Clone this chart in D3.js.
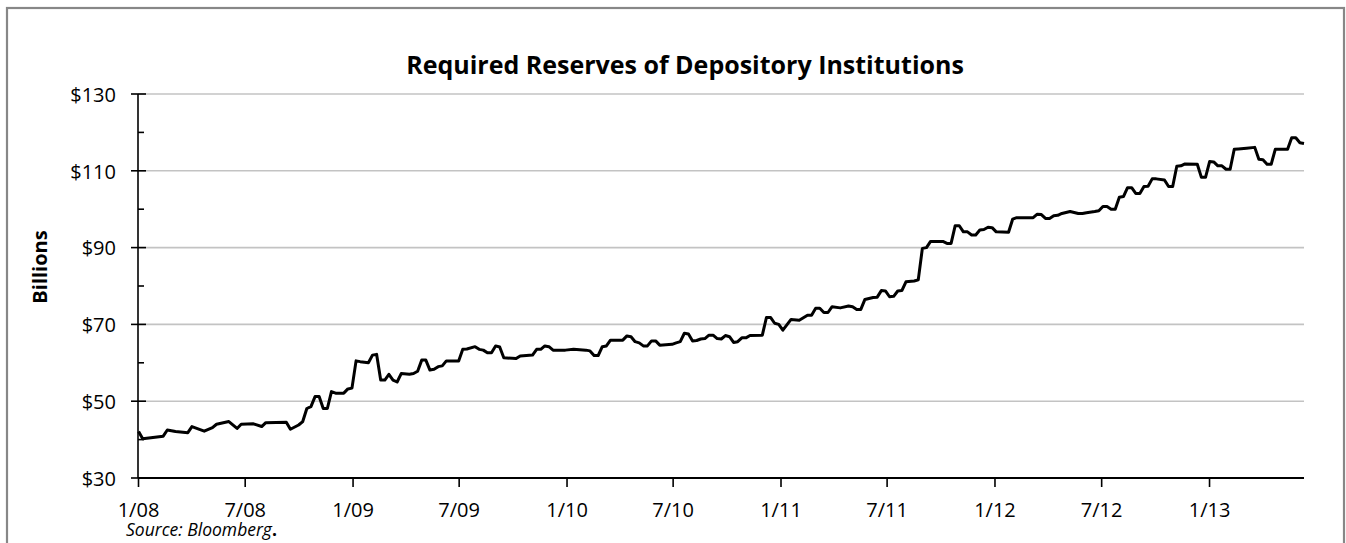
<!DOCTYPE html>
<html>
<head>
<meta charset="utf-8">
<script src="https://cdn.jsdelivr.net/npm/d3@7"></script>
<style>
  body { margin: 0; background: #fff; }
  svg { display: block; }
  .tick-label { font-family: "Open Sans", Lato, sans-serif; font-size: 20px; fill: #000; }
  .title { font-family: "Open Sans", Lato, sans-serif; font-size: 25px; font-weight: bold; }
  .axis-title { font-family: "Open Sans", Lato, sans-serif; font-size: 20px; font-weight: bold; }
  .source { font-family: "Open Sans", Lato, sans-serif; font-size: 17.5px; font-style: italic; }
</style>
</head>
<body>
<div id="chart"></div>
<script>

// weeks since the first weekly reading (2 Jan 2008)
var weeks = [0,1,6,7,9,12,13,16,18,19,22,24,25,28,30,31,36,37,39,40,41,42,43,44,45,46,47,48,50,51,52,53,54,56,57,58,59,60,61,62,63,64,66,67,68,69,70,71,72,73,74,75,78,79,80,82,83,84,85,86,87,88,89,92,93,96,97,98,99,100,101,104,106,109,110,111,112,113,114,115,118,119,120,121,122,123,124,125,126,127,130,131,132,133,134,135,136,137,138,139,140,141,142,143,144,145,146,147,148,149,152,153,154,155,156,157,159,161,163,164,165,166,167,168,169,171,173,174,175,176,177,179,180,181,182,183,184,185,186,187,189,190,191,192,193,196,197,198,199,200,201,202,203,204,205,206,207,208,209,212,213,214,218,219,220,221,222,223,224,225,227,229,230,231,233,234,235,236,237,238,239,240,241,242,243,244,245,246,247,248,250,251,252,253,254,255,258,259,260,261,262,263,264,265,266,267,268,270,272,273,274,275,276,277,280,281,282,283,284];

// required reserves, $ billions
var reserves = [42.1,40.2,40.9,42.5,42.1,41.8,43.4,42.2,43.1,44.0,44.7,42.9,44.0,44.1,43.4,44.4,44.5,42.7,43.8,44.7,48.1,48.6,51.2,51.2,48.1,48.1,52.5,52.1,52.1,53.2,53.4,60.5,60.3,60.0,62.0,62.2,55.5,55.5,57.0,55.5,55.0,57.2,57.0,57.2,57.8,60.7,60.7,58.1,58.3,59.0,59.2,60.5,60.5,63.5,63.6,64.2,63.5,63.3,62.6,62.6,64.4,64.1,61.3,61.1,61.8,62.0,63.5,63.5,64.4,64.2,63.3,63.3,63.5,63.3,63.1,61.9,61.9,64.2,64.4,65.9,65.9,67.0,66.8,65.5,65.2,64.4,64.4,65.7,65.7,64.6,64.8,65.2,65.5,67.7,67.5,65.7,65.8,66.2,66.3,67.2,67.2,66.3,66.2,67.1,66.8,65.3,65.5,66.5,66.5,67.1,67.2,71.8,71.8,70.3,70.0,68.5,71.3,71.1,72.4,72.4,74.2,74.2,73.1,73.1,74.6,74.3,74.8,74.6,73.9,73.9,76.5,77.0,77.1,78.8,78.7,77.2,77.3,78.7,78.8,81.1,81.3,81.6,89.8,90.0,91.6,91.6,91.1,91.1,95.7,95.7,94.1,94.1,93.3,93.3,94.6,94.7,95.3,95.2,94.1,94.0,97.4,97.8,97.8,98.7,98.6,97.6,97.6,98.3,98.4,98.9,99.4,98.9,98.9,99.1,99.4,99.6,100.7,100.7,100.0,100.0,103.1,103.3,105.6,105.6,104.1,104.1,105.9,106.0,107.9,107.9,107.6,105.9,105.9,111.2,111.3,111.8,111.7,108.3,108.3,112.4,112.3,111.3,111.3,110.4,110.4,115.6,115.7,115.9,116.1,113.0,112.9,111.7,111.7,115.6,115.6,118.6,118.6,117.3,117.1];

var xTickLabels = ["1/08","7/08","1/09","7/09","1/10","7/10","1/11","7/11","1/12","7/12","1/13"];
var yTicks = [30, 50, 70, 90, 110, 130];
var yMinorTicks = [40, 60, 80, 100, 120];

var width = 1346, height = 543;
var margin = { top: 94, right: 42, bottom: 65, left: 138 };
var plotW = width - margin.left - margin.right,
    plotH = height - margin.top - margin.bottom;

var svg = d3.select("#chart").append("svg")
    .attr("width", width)
    .attr("height", height);

svg.append("rect")
    .attr("width", width).attr("height", height)
    .attr("fill", "#fff");

// outer frame
svg.append("rect")
    .attr("x", 7).attr("y", 8)
    .attr("width", 1337).attr("height", 560)
    .attr("fill", "none")
    .attr("stroke", "#878787")
    .attr("stroke-width", 2.2);

var start = new Date(2008, 0, 2);
var parseTick = d3.timeParse("%m/%y");

var data = weeks.map(function(w, i) {
    return { date: d3.timeDay.offset(start, 7 * w), value: reserves[i] };
});

var g = svg.append("g")
    .attr("transform", "translate(" + margin.left + "," + margin.top + ")");

var x = d3.scaleTime()
    .domain([new Date(2008, 0, 1), data[data.length - 1].date])
    .range([0, plotW]);

var y = d3.scaleLinear()
    .domain([30, 130])
    .range([plotH, 0]);

// gridlines
g.selectAll(".grid")
    .data(yTicks.slice(1))
    .enter().append("line")
    .attr("class", "grid")
    .attr("x1", 0).attr("x2", plotW)
    .attr("y1", d => y(d)).attr("y2", d => y(d))
    .attr("stroke", "#c3c3c3")
    .attr("stroke-width", 1.6);

// y axis
var yAxis = d3.axisLeft(y)
    .tickValues(yTicks)
    .tickSize(0)
    .tickPadding(22)
    .tickFormat(d => "$" + d);

g.append("g")
    .attr("class", "y-axis")
    .call(yAxis)
    .call(a => a.select(".domain").remove())
    .selectAll("text")
    .attr("class", "tick-label")
    .attr("dy", "0.36em");

g.append("line")
    .attr("x1", 0).attr("x2", 0)
    .attr("y1", 0).attr("y2", plotH)
    .attr("stroke", "#000").attr("stroke-width", 1.6);

g.selectAll(".ymajor")
    .data(yTicks)
    .enter().append("line")
    .attr("x1", -7).attr("x2", 8)
    .attr("y1", d => y(d)).attr("y2", d => y(d))
    .attr("stroke", "#000").attr("stroke-width", 1.6);

g.selectAll(".yminor")
    .data(yMinorTicks)
    .enter().append("line")
    .attr("x1", 0).attr("x2", 6)
    .attr("y1", d => y(d)).attr("y2", d => y(d))
    .attr("stroke", "#000").attr("stroke-width", 1.6);

// x axis
var xAxis = d3.axisBottom(x)
    .tickValues(xTickLabels.map(parseTick))
    .tickSize(9)
    .tickPadding(16)
    .tickFormat(d3.timeFormat("%-m/%y"));

var xg = g.append("g")
    .attr("class", "x-axis")
    .attr("transform", "translate(0," + plotH + ")")
    .call(xAxis);

xg.select(".domain")
    .attr("stroke", "#000").attr("stroke-width", 1.8)
    .attr("d", "M0,0H" + plotW);
xg.selectAll(".tick line").attr("stroke", "#000").attr("stroke-width", 1.6);
xg.selectAll(".tick text").attr("class", "tick-label");

// series line
var line = d3.line()
    .x(d => x(d.date))
    .y(d => y(d.value));

g.append("path")
    .datum(data)
    .attr("fill", "none")
    .attr("stroke", "#000")
    .attr("stroke-width", 3)
    .attr("stroke-linejoin", "round")
    .attr("d", line);

// titles
svg.append("text")
    .attr("class", "title")
    .attr("x", 685).attr("y", 74)
    .attr("text-anchor", "middle")
    .text("Required Reserves of Depository Institutions");

svg.append("text")
    .attr("class", "axis-title")
    .attr("transform", "translate(47,267) rotate(-90)")
    .attr("text-anchor", "middle")
    .text("Billions");

var src = svg.append("text")
    .attr("class", "source")
    .attr("x", 126).attr("y", 536);
src.append("tspan").text("Source: Bloomberg");
src.append("tspan").attr("font-style", "normal").attr("font-weight", "bold").text(".");

</script>
</body>
</html>
